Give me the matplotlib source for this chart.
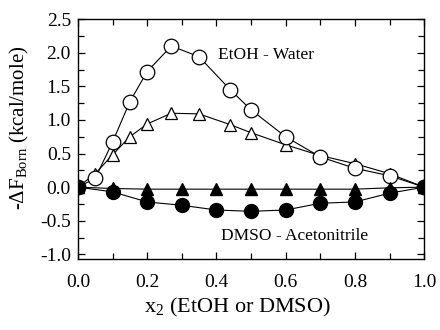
import matplotlib

matplotlib.use("Agg")
import matplotlib.pyplot as plt
from matplotlib.ticker import MultipleLocator

plt.rcParams["font.family"] = ["Liberation Serif", "DejaVu Serif"]
plt.rcParams["mathtext.fontset"] = "custom"
plt.rcParams["mathtext.rm"] = "Liberation Serif"
plt.rcParams["mathtext.it"] = "Liberation Serif:italic"

# --- data --------------------------------------------------------------------
x_etoh = [0.0, 0.05, 0.1, 0.15, 0.2, 0.27, 0.35, 0.44, 0.5, 0.6, 0.7, 0.8, 0.9, 1.0]
etoh_open_circ = [0.0, 0.13, 0.67, 1.27, 1.72, 2.1, 1.94, 1.45, 1.15, 0.75, 0.45, 0.28, 0.17, 0.0]
etoh_open_tri = [0.0, 0.2, 0.48, 0.75, 0.94, 1.1, 1.09, 0.93, 0.81, 0.63, 0.47, 0.35, 0.2, 0.0]

x_dmso = [0.0, 0.1, 0.2, 0.3, 0.4, 0.5, 0.6, 0.7, 0.8, 0.9, 1.0]
dmso_fill_tri = [0.0, -0.02, -0.03, -0.03, -0.03, -0.03, -0.03, -0.03, -0.03, -0.01, 0.0]
dmso_fill_circ = [0.0, -0.07, -0.22, -0.27, -0.34, -0.36, -0.34, -0.24, -0.22, -0.09, 0.0]

fig = plt.figure(figsize=(4.4, 3.3), dpi=100)
ax = fig.add_axes([0.177, 0.215, 0.787, 0.727])

ax.plot(x_etoh, etoh_open_tri, "-^", color="black", lw=0.8, ms=9,
        mfc="white", mec="black", mew=0.9, zorder=3)
ax.plot(x_etoh, etoh_open_circ, "-o", color="black", lw=0.8, ms=10.5,
        mfc="white", mec="black", mew=0.9, zorder=3)
ax.plot(x_dmso, dmso_fill_tri, "-^", color="black", lw=0.8, ms=8.5, zorder=4)
ax.plot(x_dmso, dmso_fill_circ, "-o", color="black", lw=0.8, ms=10, zorder=4)

ax.text(0.405, 1.97, "EtOH - Water", fontsize=12.5, va="center", ha="left")
ax.text(0.413, -0.73, "DMSO - Acetonitrile", fontsize=12.5, va="center", ha="left")

ax.set_xlim(0, 1.0)
ax.set_ylim(-1.07, 2.5)
ax.xaxis.set_major_locator(MultipleLocator(0.2))
ax.xaxis.set_minor_locator(MultipleLocator(0.1))
ax.yaxis.set_major_locator(MultipleLocator(0.5))
ax.yaxis.set_minor_locator(MultipleLocator(0.25))
ax.xaxis.set_major_formatter(plt.FormatStrFormatter("%.1f"))
ax.yaxis.set_major_formatter(plt.FormatStrFormatter("%.1f"))
ax.tick_params(which="both", direction="in", top=True, right=True, labelsize=14, width=0.9)
ax.tick_params(which="major", length=5)
ax.tick_params(which="minor", length=4)
ax.tick_params(axis="x", which="major", pad=11)
ax.tick_params(axis="y", which="major", pad=5)
for s in ax.spines.values():
    s.set_linewidth(1.0)

ax.set_xlabel(r"x$_2$ (EtOH or DMSO)", fontsize=16)
ax.set_ylabel(r"-$\Delta$F$_{\rm Born}$ (kcal/mole)", fontsize=15)
ax.xaxis.set_label_coords(0.462, -0.155)
ax.yaxis.set_label_coords(-0.135, 0.546)

fig.savefig("out.png", dpi=100)
